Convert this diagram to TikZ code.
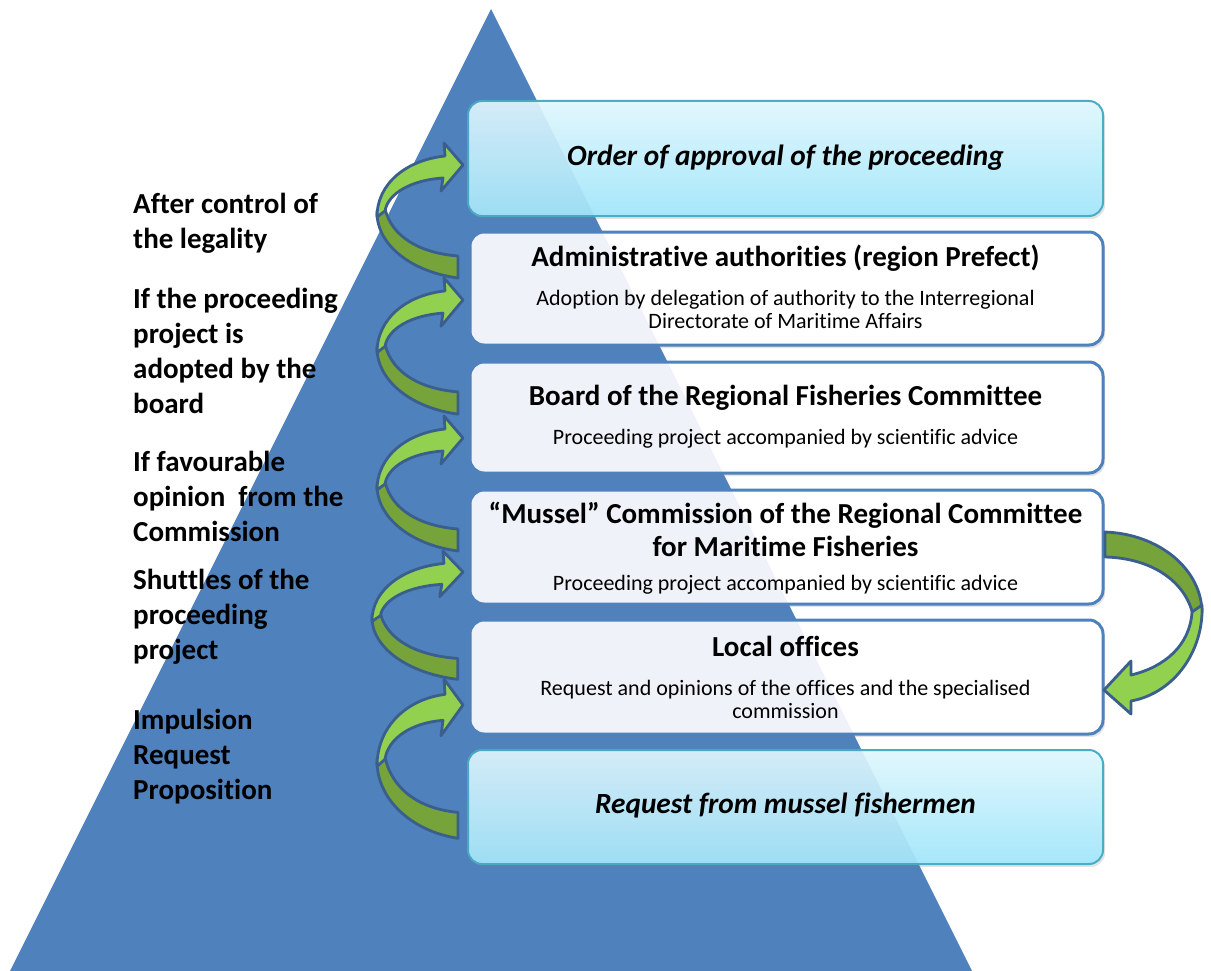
\documentclass[tikz,border=0pt]{standalone}
\usepackage{fontspec}
\setmainfont{Carlito}[Ligatures=NoCommon]
\usetikzlibrary{shadows}
\newcommand{\zk}{\kern0pt}
\definecolor{tri}{HTML}{4F81BD}
\definecolor{cyanborder}{HTML}{4BACC6}
\definecolor{cyantop}{HTML}{E2F7FD}
\definecolor{cyanbot}{HTML}{A6E7FA}
\definecolor{lightgreen}{HTML}{92D050}
\definecolor{darkgreen}{HTML}{76A33A}
\definecolor{arrowblue}{HTML}{3A5F8D}
\newcommand{\curvedarrowL}[4]{%
\begin{scope}[shift={(#1,#2)}, xscale=#3, yscale=#4]
\draw[darkband] (-85,46) .. controls (-86,80) and (-50,107) .. (-4,113) -- (-4,91) .. controls (-42,88) and (-70,72) .. (-77,44) -- cycle;
\draw[lightband] (-17,-9) .. controls (-55,-5) and (-85,18) .. (-85,52) -- (-77,46) .. controls (-74,28) and (-50,15) .. (-19,13) -- (-21,26) -- (1,0) -- (-18,-22) -- cycle;
\end{scope}}
\begin{document}
\begin{tikzpicture}[x=1pt,y=-1pt,
  boxshadow/.style={drop shadow={opacity=0.22, shadow xshift=2pt, shadow yshift=-3pt}},
  cyanbox/.style={draw=cyanborder, line width=2pt, rounded corners=14pt, top color=cyantop, bottom color=cyanbot, boxshadow, inner sep=0},
  bluebox/.style={draw=tri, line width=3pt, rounded corners=14pt, fill=white, boxshadow, inner sep=0},
  arrowline/.style={draw=arrowblue, line width=2.8pt, line join=round},
  lightband/.style={arrowline, fill=lightgreen},
  darkband/.style={arrowline, fill=darkgreen},
  lbl/.style={font=\fontsize{29}{35}\selectfont\bfseries, align=left, inner sep=0, anchor=west},
  ttl/.style={font=\fontsize{29}{33}\selectfont\bfseries, align=center, inner sep=0},
  sub/.style={font=\fontsize{22}{23}\selectfont, align=center, inner sep=0},
  ital/.style={font=\fontsize{29.3}{33}\selectfont\bfseries\itshape, align=center, inner sep=0}]
\useasboundingbox (0,0) rectangle (1211,971);
\fill[tri] (491,9) -- (972,971) -- (10,971) -- cycle;
% boxes
\node[cyanbox, minimum width=635pt, minimum height=115pt] (b1) at (785.5,158.5) {};
\node[bluebox, minimum width=633pt, minimum height=113pt] (b2) at (786.5,288.5) {};
\node[bluebox, minimum width=633pt, minimum height=111pt] (b3) at (786.5,417.5) {};
\node[bluebox, minimum width=633pt, minimum height=114pt] (b4) at (786.5,547) {};
\node[bluebox, minimum width=633pt, minimum height=114pt] (b5) at (786.5,677) {};
\node[cyanbox, minimum width=635pt, minimum height=114pt] (b6) at (785.5,807) {};
% faint triangle seen through the boxes
\foreach \b in {b1,b2,b3,b4,b5,b6}{
  \begin{scope}
    \clip[rounded corners=14pt] (\b.south west) rectangle (\b.north east);
    \fill[tri, opacity=0.09] (491,9) -- (972,971) -- (10,971) -- cycle;
  \end{scope}}
% texts in boxes
\node[ital] (t1) at (785.5,158) {Order of approval of the proceeding};
\node[ttl] (t2) at (785.5,258) {Administrat\zk ive authorit\zk ies (region Prefect)};
\node[sub] (s2) at (785.5,309.5) {Adopt\zk ion by delegat\zk ion of authorit\zk y to the Interregional\\Directorate of Marit\zk ime Af\zk fairs};
\node[ttl] (t3) at (785.5,398) {Board of the Regional Fisheries Commit\zk tee};
\node[sub] (s3) at (785.5,439) {Proceeding project accompanied by scient\zk if\zk ic advice};
\node[ttl] (t4) at (785.5,529.5) {“Mussel” Commission of the Regional Commit\zk tee\\for Marit\zk ime Fisheries};
\node[sub] (s4) at (785.5,585) {Proceeding project accompanied by scient\zk if\zk ic advice};
\node[ttl] (t5) at (785.5,646) {Local of\zk f\zk ices};
\node[sub] (s5) at (785.5,699.5) {Request and opinions of the of\zk f\zk ices and the specialised\\commission};
\node[ital] (t6) at (785.5,806) {Request from mussel f\zk ishermen};
% left labels
\node[lbl] (l1) at (133,223.5) {After control of\\the legality};
\node[lbl] (l2) at (133,351) {If the proceeding\\project is\\adopted by the\\board};
\node[lbl] (l3) at (133,496) {If favourable\\opinion\ \ from the\\Commission};
\node[lbl] (l4) at (133,616.5) {Shut\zk tles of the\\proceeding\\project};
\node[lbl] (l5) at (133,756.5) {Impulsion\\Request\\Proposit\zk ion};
% curved arrows on the left
\curvedarrowL{462}{165}{1}{1}
\curvedarrowL{462}{300}{1}{1.01}
\curvedarrowL{462}{438}{1}{1}
\curvedarrowL{462}{572}{1.06}{0.95}
\curvedarrowL{462}{705}{1}{1.18}
% curved arrow on the right
\draw[darkband] (1105,532) .. controls (1160,534) and (1202,570) .. (1202,613) -- (1193,615) .. controls (1185,580) and (1150,558) .. (1105,557) -- cycle;
\draw[lightband] (1202,605) .. controls (1204,650) and (1175,693) .. (1131,701) -- (1131,714) -- (1104,690) -- (1131,661) -- (1131,675) .. controls (1165,667) and (1190,645) .. (1192,612) -- cycle;
\end{tikzpicture}
\end{document}
